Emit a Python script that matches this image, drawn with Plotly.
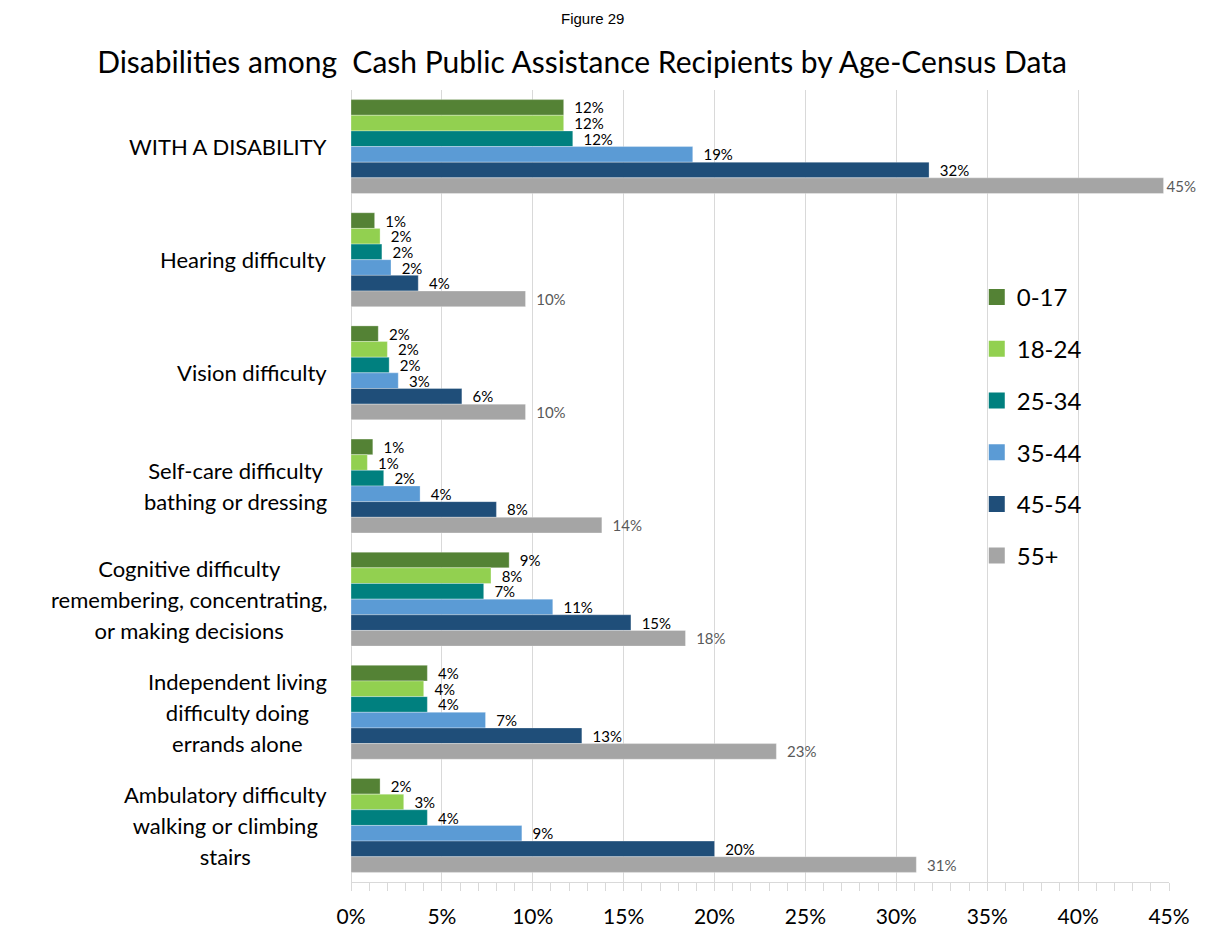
import plotly.graph_objects as go

# Disability categories (top to bottom) and age groups
categories = [
    "WITH A DISABILITY",
    "Hearing difficulty",
    "Vision difficulty",
    "Self-care difficulty<br>bathing or dressing",
    "Cognitive difficulty<br>remembering, concentrating,<br>or making decisions",
    "Independent living<br>difficulty doing<br>errands alone",
    "Ambulatory difficulty<br>walking or climbing<br>stairs",
]
age_groups = ["0-17", "18-24", "25-34", "35-44", "45-54", "55+"]

# Share of recipients with each disability, in percent
pct_0_17 = [11.7, 1.3, 1.5, 1.2, 8.7, 4.2, 1.6]
pct_18_24 = [11.7, 1.6, 2.0, 0.9, 7.7, 4.0, 2.9]
pct_25_34 = [12.2, 1.7, 2.1, 1.8, 7.3, 4.2, 4.2]
pct_35_44 = [18.8, 2.2, 2.6, 3.8, 11.1, 7.4, 9.4]
pct_45_54 = [31.8, 3.7, 6.1, 8.0, 15.4, 12.7, 20.0]
pct_55_plus = [44.7, 9.6, 9.6, 13.8, 18.4, 23.4, 31.1]

series = [pct_0_17, pct_18_24, pct_25_34, pct_35_44, pct_45_54, pct_55_plus]
colors = ["#548235", "#92D050", "#00807F", "#5B9BD5", "#1F4E79", "#A5A5A5"]
label_colors = ["#000000"] * 5 + ["#595959"]

x_ticks = [0, 5, 10, 15, 20, 25, 30, 35, 40, 45]
x_tick_text = [f"{v}%" for v in x_ticks]

FONT = "Lato"

# Plot-area geometry in pixels, used to place paper-referenced annotations
W, H = 1205, 930
M_L, M_R, M_T, M_B = 351, 36, 90, 48
PLOT_W = W - M_L - M_R
PLOT_H = H - M_T - M_B


def paper_x(px):
    return (px - M_L) / PLOT_W


def paper_y(px):
    return (H - M_B - px) / PLOT_H


fig = go.Figure()
for name, vals, col, lcol in zip(age_groups, series, colors, label_colors):
    # labels sit just past the bar end; no gap where the bar nearly fills the axis
    templates = ["  %{x:.0f}%" if v < 40 else "%{x:.0f}%" for v in vals]
    fig.add_trace(go.Bar(
        name=name,
        y=categories,
        x=vals,
        orientation="h",
        marker=dict(color=col, line=dict(color="rgba(255,255,255,0.6)", width=0.5)),
        texttemplate=templates,
        textposition="outside",
        constraintext="none",
        cliponaxis=False,
        textfont=dict(family=FONT, size=15, color=lcol),
        hoverinfo="x+name",
        showlegend=False,
    ))

# Legend entries with larger square swatches
for name, col in zip(age_groups, colors):
    fig.add_trace(go.Scatter(
        name=name, legendgroup=name,
        x=[None], y=[None], mode="markers",
        marker=dict(symbol="square", size=17, color=col),
        showlegend=True, hoverinfo="skip",
    ))

# Category labels as centred multi-line blocks to the left of the axis
for cat in categories:
    lines = cat.split("<br>")
    txt = "<br>".join(f'<span style="font-size:22px">{ln}</span>' for ln in lines)
    fig.add_annotation(
        x=0, xref="paper", xanchor="right", xshift=-22,
        y=cat, yref="y", yanchor="middle",
        text=txt, align="center", showarrow=False,
        font=dict(family=FONT, size=24, color="#000000"),
    )

fig.add_annotation(
    x=paper_x(592), xref="paper", xanchor="center",
    y=paper_y(18), yref="paper", yanchor="middle",
    text="Figure 29", showarrow=False,
    font=dict(family="Liberation Sans", size=15, color="#000000"),
)

fig.update_layout(
    width=W, height=H,
    margin=dict(l=M_L, r=M_R, t=M_T, b=M_B, autoexpand=False),
    paper_bgcolor="white", plot_bgcolor="white",
    barmode="group", bargap=0.17, bargroupgap=0,
    title=dict(
        text="Disabilities among\u00a0 Cash Public Assistance Recipients by Age-Census Data",
        x=582 / W, xanchor="center", xref="container",
        y=1 - 62 / H, yanchor="middle", yref="container",
        font=dict(family=FONT, size=30, color="#000000"),
    ),
    font=dict(family=FONT, color="#000000"),
    legend=dict(
        x=0.765, xanchor="left", y=paper_y(275), yanchor="top",
        bgcolor="rgba(0,0,0,0)", traceorder="grouped", tracegroupgap=17.5,
        font=dict(family=FONT, size=24, color="#000000"),
        itemwidth=30,
    ),
    showlegend=True,
)

fig.update_xaxes(
    range=[0, 45], tickvals=x_ticks, ticktext=x_tick_text,
    showgrid=True, gridcolor="#D9D9D9", gridwidth=1,
    zeroline=True, zerolinecolor="#D9D9D9", zerolinewidth=1,
    showline=True, linecolor="#D9D9D9", linewidth=1,
    ticks="outside", ticklen=8, tickcolor="#D9D9D9",
    ticklabelstandoff=8,
    minor=dict(dtick=1, ticks="outside", ticklen=8, tickcolor="#D9D9D9", showgrid=False),
    tickfont=dict(family=FONT, size=21, color="#000000"),
    automargin=False,
    fixedrange=True,
)
fig.update_yaxes(
    autorange="reversed", showticklabels=False, showgrid=False,
    ticks="", automargin=False, fixedrange=True,
)

fig.write_html("out.html")
